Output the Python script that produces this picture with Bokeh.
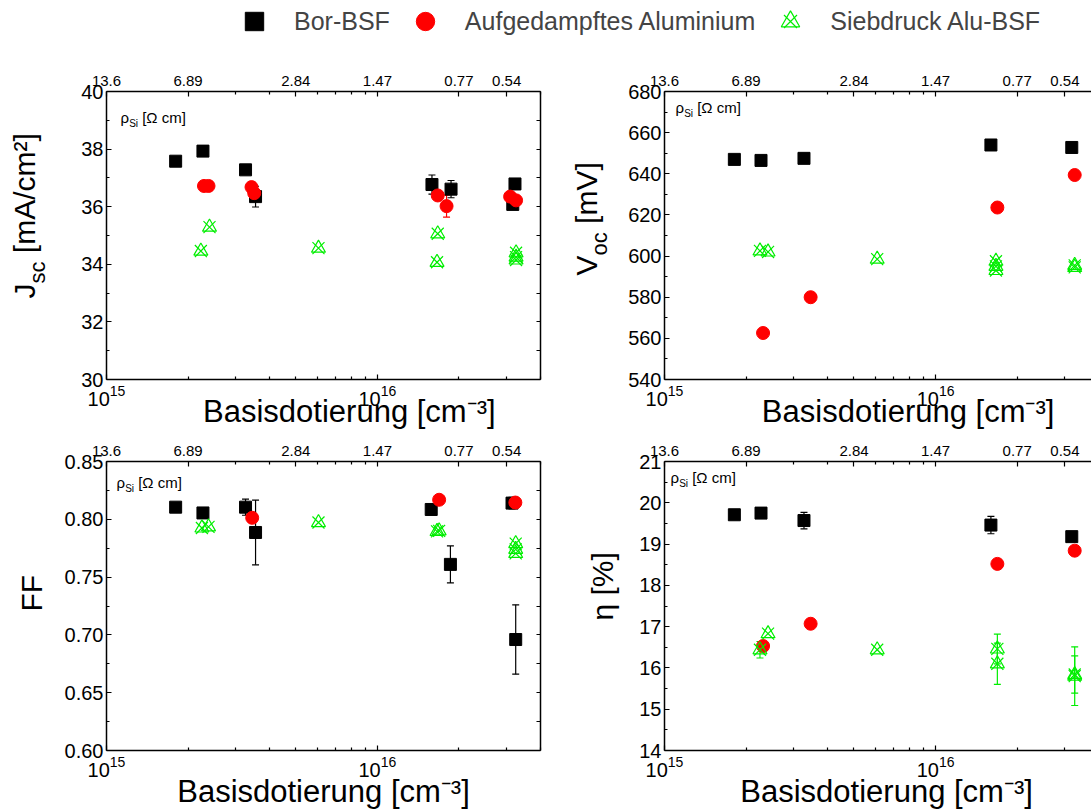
import math
from bokeh.plotting import figure
from bokeh.models import (Range1d, LogAxis, LinearAxis, FixedTicker, PrintfTickFormatter,
                          Label, Legend, LegendItem, ColumnDataSource, Whisker, TeeHead)
from bokeh.layouts import column, row
from bokeh.embed import file_html
from bokeh.resources import INLINE

FONT = "Liberation Sans"
C_BOR = "#000000"
C_ALU = "#ff0000"
C_SD = "#00ee00"

series_names = ["Bor-BSF", "Aufgedampftes Aluminium", "Siebdruck Alu-BSF"]
x_title = "Basisdotierung [cm⁻³]"

# ---------------- data: J_sc [mA/cm2]
jsc_bor_x = [1.80e15, 2.27e15, 3.26e15, 3.55e15, 1.59e16, 1.87e16, 3.16e16, 3.22e16]
jsc_bor_y = [37.58, 37.93, 37.28, 36.35, 36.77, 36.61, 36.08, 36.79]
jsc_bor_e = [0, 0, 0, 0.36, 0.33, 0.30, 0.10, 0]
jsc_alu_x = [2.29e15, 2.38e15, 3.43e15, 3.51e15, 1.67e16, 1.80e16, 3.09e16, 3.25e16]
jsc_alu_y = [36.72, 36.72, 36.68, 36.47, 36.39, 36.02, 36.35, 36.22]
jsc_alu_e = [0, 0, 0, 0, 0, 0.38, 0, 0]
jsc_sd_x = [2.23e15, 2.40e15, 6.06e15, 1.67e16, 1.66e16, 3.25e16, 3.25e16, 3.25e16]
jsc_sd_y = [34.46, 35.29, 34.56, 35.06, 34.07, 34.40, 34.25, 34.15]
jsc_sd_e = [0, 0, 0, 0, 0, 0, 0, 0]

# ---------------- data: V_oc [mV]
voc_bor_x = [1.81e15, 2.27e15, 3.27e15, 1.60e16, 3.18e16]
voc_bor_y = [647.0, 646.5, 647.5, 654.0, 652.8]
voc_bor_e = [0, 0, 0, 0, 0]
voc_alu_x = [2.31e15, 3.46e15, 1.69e16, 3.26e16]
voc_alu_y = [562.6, 580.0, 623.6, 639.4]
voc_alu_e = [0, 0, 0, 0]
voc_sd_x = [2.25e15, 2.41e15, 6.09e15, 1.67e16, 1.67e16, 1.67e16, 3.26e16, 3.26e16]
voc_sd_y = [602.5, 602.0, 598.5, 597.5, 595.0, 593.0, 595.5, 594.5]
voc_sd_e = [0, 0, 0, 0, 0, 0, 0, 0]

# ---------------- data: FF
ff_bor_x = [1.80e15, 2.27e15, 3.26e15, 3.55e15, 1.58e16, 1.86e16, 3.14e16, 3.24e16]
ff_bor_y = [0.8105, 0.8055, 0.8105, 0.7886, 0.8085, 0.7610, 0.8140, 0.6960]
ff_bor_e = [0, 0, 0.007, 0.028, 0, 0.016, 0.005, 0.030]
ff_alu_x = [3.45e15, 1.69e16, 3.23e16]
ff_alu_y = [0.8013, 0.8169, 0.8145]
ff_alu_e = [0, 0, 0]
ff_sd_x = [2.25e15, 2.38e15, 6.06e15, 1.66e16, 1.69e16, 3.24e16, 3.24e16, 3.24e16]
ff_sd_y = [0.7925, 0.7935, 0.7972, 0.7895, 0.7900, 0.7790, 0.7740, 0.7705]
ff_sd_e = [0, 0, 0, 0, 0, 0, 0, 0]

# ---------------- data: eta [%]
eta_bor_x = [1.81e15, 2.27e15, 3.27e15, 1.60e16, 3.18e16]
eta_bor_y = [19.71, 19.75, 19.57, 19.46, 19.18]
eta_bor_e = [0, 0, 0.20, 0.21, 0]
eta_alu_x = [2.31e15, 3.46e15, 1.69e16, 3.26e16]
eta_alu_y = [16.53, 17.07, 18.52, 18.84]
eta_alu_e = [0, 0, 0, 0]
eta_sd_x = [2.25e15, 2.41e15, 6.09e15, 1.69e16, 1.69e16, 3.26e16, 3.26e16]
eta_sd_y = [16.44, 16.83, 16.44, 16.46, 16.10, 15.80, 15.84]
eta_sd_e = [0.20, 0, 0, 0.36, 0.50, 0.71, 0.45]

# ---------------- ticks / tick labels
dop_major = [1e15, 1e16]
dop_minor = [2e15, 3e15, 4e15, 5e15, 6e15, 7e15, 8e15, 9e15, 2e16, 3e16, 4e16]
rho_ticks = [1e15, 2e15, 5e15, 1e16, 2e16, 3e16]
rho_labels = ["13.6", "6.89", "2.84", "1.47", "0.77", "0.54"]
rho_minor = [3e15, 4e15, 6e15, 7e15, 8e15, 9e15, 4e16]

jsc_ticks = [30, 32, 34, 36, 38, 40]
jsc_minor = [31, 33, 35, 37, 39]
voc_ticks = [540, 560, 580, 600, 620, 640, 660, 680]
voc_minor = [550, 570, 590, 610, 630, 650, 670]
ff_ticks = [0.60, 0.65, 0.70, 0.75, 0.80, 0.85]
ff_minor = [0.625, 0.675, 0.725, 0.775, 0.825]
eta_ticks = [14, 15, 16, 17, 18, 19, 20, 21]
eta_minor = [14.5, 15.5, 16.5, 17.5, 18.5, 19.5, 20.5]

# ---------------- text helpers
CW = {'J': .5, 's': .5, 'c': .5, ' ': .278, '[': .278, ']': .278, 'm': .833, 'A': .667,
      '/': .278, '²': .333, 'V': .667, 'o': .556, 'F': .611, 'η': .556, '%': .889,
      'ρ': .576, 'S': .667, 'i': .222, 'Ω': .768}
MID = 0.3465  # distance baseline -> middle of the text box, in font sizes
NBSP = "\u00a0"


def tw(s, size):
    return sum(CW.get(ch, 0.556) for ch in s) * size


def add_text(p, x, y, text, size, angle=0.0):
    p.add_layout(Label(x=x, y=y, x_units="screen", y_units="screen", text=text,
                       text_font=FONT, text_font_size=f"{size}px", text_color="black",
                       text_align="left", text_baseline="middle", angle=angle))


def hrun(p, x, by, pieces):
    # pieces: (text, size, baseline shift, gap before); by = baseline above frame bottom
    for t, s, dy, gap in pieces:
        x += gap
        add_text(p, x, by + dy + MID * s, t, s)
        x += tw(t, s)


def vrun(p, bx, y, pieces):
    # text reading upward; bx = baseline x; dx > 0 moves toward the plot (subscript)
    for t, s, dx, gap in pieces:
        y += gap
        add_text(p, bx + dx - MID * s, y, t, s, angle=math.pi / 2)
        y += tw(t, s)


def style_axis(ax, size):
    ax.axis_line_color = "black"
    ax.axis_line_width = 1.5
    ax.major_tick_line_color = "black"
    ax.minor_tick_line_color = "black"
    ax.major_tick_line_width = 1.2
    ax.minor_tick_line_width = 1.2
    ax.major_tick_in = 5
    ax.major_tick_out = 0
    ax.minor_tick_in = 3
    ax.minor_tick_out = 0
    ax.major_label_text_font = FONT
    ax.major_label_text_font_size = f"{size}px"
    ax.major_label_text_color = "black"


def make_panel(width, height, bl, br, bt, bb, x_end, yr, yt, ym, yfmt, right_axis,
               xl_standoff, xl_shift):
    p = figure(width=width, height=height, x_axis_type="log",
               x_range=Range1d(1e15, x_end), y_range=Range1d(*yr),
               output_backend="svg", toolbar_location=None,
               min_border_left=bl, min_border_right=br,
               min_border_top=bt, min_border_bottom=bb)
    p.outline_line_color = None
    p.grid.visible = False
    xa = p.xaxis[0]
    xa.ticker = FixedTicker(ticks=dop_major, minor_ticks=dop_minor)
    style_axis(xa, 20)
    xa.major_label_standoff = 5
    # non-breaking spaces nudge the centred title to the right, as in the original
    xa.axis_label = NBSP * xl_shift + x_title
    xa.axis_label_text_font = FONT
    xa.axis_label_text_font_size = "31px"
    xa.axis_label_text_font_style = "normal"
    xa.axis_label_text_color = "black"
    xa.axis_label_standoff = xl_standoff
    ya = p.yaxis[0]
    ya.ticker = FixedTicker(ticks=yt, minor_ticks=ym)
    ya.formatter = PrintfTickFormatter(format=yfmt)
    style_axis(ya, 20)
    ya.major_label_standoff = 3
    top = LogAxis(ticker=FixedTicker(ticks=rho_ticks, minor_ticks=rho_minor),
                  major_label_overrides=dict(zip(rho_ticks, rho_labels)))
    style_axis(top, 15)
    top.major_label_standoff = 6
    p.add_layout(top, "above")
    if right_axis:
        # right frame edge: tick marks only, no labels
        ra = LinearAxis(ticker=FixedTicker(ticks=[], minor_ticks=yt + ym))
        style_axis(ra, 20)
        ra.minor_tick_in = 4
        p.add_layout(ra, "right")
    return p


def label_strip(width, height):
    s = figure(width=width, height=height, x_range=Range1d(0, 1), y_range=Range1d(0, 1),
               output_backend="svg", toolbar_location=None,
               x_axis_location=None, y_axis_location=None,
               min_border_left=0, min_border_right=0, min_border_top=0, min_border_bottom=0)
    s.outline_line_color = None
    s.grid.visible = False
    return s


def add_errors(p, xs, ys, es, color):
    sel = [i for i, e in enumerate(es) if e > 0]
    if not sel:
        return
    src = ColumnDataSource(dict(base=[xs[i] for i in sel],
                                upper=[ys[i] + es[i] for i in sel],
                                lower=[ys[i] - es[i] for i in sel]))
    p.add_layout(Whisker(source=src, base="base", upper="upper", lower="lower",
                         dimension="height", line_color=color, line_width=1.2,
                         upper_head=TeeHead(size=7, line_color=color, line_width=1.2),
                         lower_head=TeeHead(size=7, line_color=color, line_width=1.2)))


def draw(p, bx, by, be, ax, ay, ae, gx, gy, ge):
    add_errors(p, bx, by, be, C_BOR)
    p.scatter(bx, by, marker="square", size=12, fill_color=C_BOR, line_color=C_BOR)
    add_errors(p, ax, ay, ae, C_ALU)
    p.scatter(ax, ay, marker="circle", size=13, fill_color=C_ALU, line_color=C_ALU)
    add_errors(p, gx, gy, ge, C_SD)
    p.scatter(gx, gy, marker="triangle", size=14, fill_color=None, line_color=C_SD, line_width=1.2)
    p.scatter(gx, gy, marker="x", size=17, line_color=C_SD, line_width=1.2)


def rho_label(p, x, by):
    hrun(p, x, by, [("ρ", 15, 0, 0), ("Si", 10, -4, 0), ("[Ω cm]", 15, 0, 0.278 * 15)])


X_END_LEFT = 4e16
X_END_RIGHT = 3.76e16
TOP_H, BOT_H = 378, 380

# ---------------- panels (label strips share the frame of their neighbour)
tl = make_panel(503, TOP_H, 54, 15, 37, 53, X_END_LEFT, (30, 40), jsc_ticks, jsc_minor,
                "%d", True, -15, 6)
draw(tl, jsc_bor_x, jsc_bor_y, jsc_bor_e, jsc_alu_x, jsc_alu_y, jsc_alu_e, jsc_sd_x, jsc_sd_y, jsc_sd_e)
rho_label(tl, 14, 257)
yl_tl = label_strip(52, TOP_H)
vrun(yl_tl, 34, 81, [("J", 30, 0, 0), ("sc", 22, 11, 0), ("[mA/cm²]", 30, 0, 0.278 * 30)])

tr = make_panel(468, TOP_H, 41, 0, 37, 53, X_END_RIGHT, (540, 680), voc_ticks, voc_minor,
                "%d", False, -15, 7)
draw(tr, voc_bor_x, voc_bor_y, voc_bor_e, voc_alu_x, voc_alu_y, voc_alu_e, voc_sd_x, voc_sd_y, voc_sd_e)
rho_label(tr, 11, 267)
yl_tr = label_strip(68, TOP_H)
vrun(yl_tr, 41, 104, [("V", 30, 0, 0), ("oc", 22, 11, 0), ("[mV]", 30, 0, 0.278 * 30)])

bl = make_panel(503, BOT_H, 54, 15, 29, 62, X_END_LEFT, (0.60, 0.85), ff_ticks, ff_minor,
                "%.2f", True, -6, 0)
draw(bl, ff_bor_x, ff_bor_y, ff_bor_e, ff_alu_x, ff_alu_y, ff_alu_e, ff_sd_x, ff_sd_y, ff_sd_e)
rho_label(bl, 10, 263)
yl_bl = label_strip(52, BOT_H)
vrun(yl_bl, 41, 139, [("FF", 30, 0, 0)])

br = make_panel(468, BOT_H, 41, 0, 29, 62, X_END_RIGHT, (14, 21), eta_ticks, eta_minor,
                "%d", False, -6, 2)
draw(br, eta_bor_x, eta_bor_y, eta_bor_e, eta_alu_x, eta_alu_y, eta_alu_e, eta_sd_x, eta_sd_y, eta_sd_e)
rho_label(br, 6, 268)
yl_br = label_strip(68, BOT_H)
vrun(yl_br, 57, 130, [("η", 30, 0, 0), ("[%]", 30, 0, 0.278 * 30)])

# ---------------- legend strip
leg = label_strip(1091, 54)
src_b = ColumnDataSource(dict(x=jsc_bor_x[:1], y=jsc_bor_y[:1]))
src_a = ColumnDataSource(dict(x=jsc_alu_x[:1], y=jsc_alu_y[:1]))
src_s = ColumnDataSource(dict(x=jsc_sd_x[:1], y=jsc_sd_y[:1]))
r_bor = leg.scatter("x", "y", source=src_b, marker="square", fill_color=C_BOR, line_color=C_BOR)
r_alu = leg.scatter("x", "y", source=src_a, marker="circle", fill_color=C_ALU, line_color=C_ALU)
r_sd1 = leg.scatter("x", "y", source=src_s, marker="triangle", fill_color=None, line_color=C_SD, line_width=1.2)
r_sd2 = leg.scatter("x", "y", source=src_s, marker="x", line_color=C_SD, line_width=1.2)
legend = Legend(items=[LegendItem(label=series_names[0], renderers=[r_bor]),
                       LegendItem(label=series_names[1], renderers=[r_alu]),
                       LegendItem(label=series_names[2], renderers=[r_sd1, r_sd2])],
                orientation="horizontal", location=(229, 10),
                glyph_width=50, glyph_height=46, label_standoff=15, spacing=10,
                padding=0, margin=0, border_line_color=None, background_fill_alpha=0,
                label_text_font=FONT, label_text_font_size="25px")
leg.add_layout(legend)

layout = column(leg, row(yl_tl, tl, yl_tr, tr), row(yl_bl, bl, yl_br, br))
open("out.html", "w").write(file_html(layout, INLINE, title="Solarzellen"))
